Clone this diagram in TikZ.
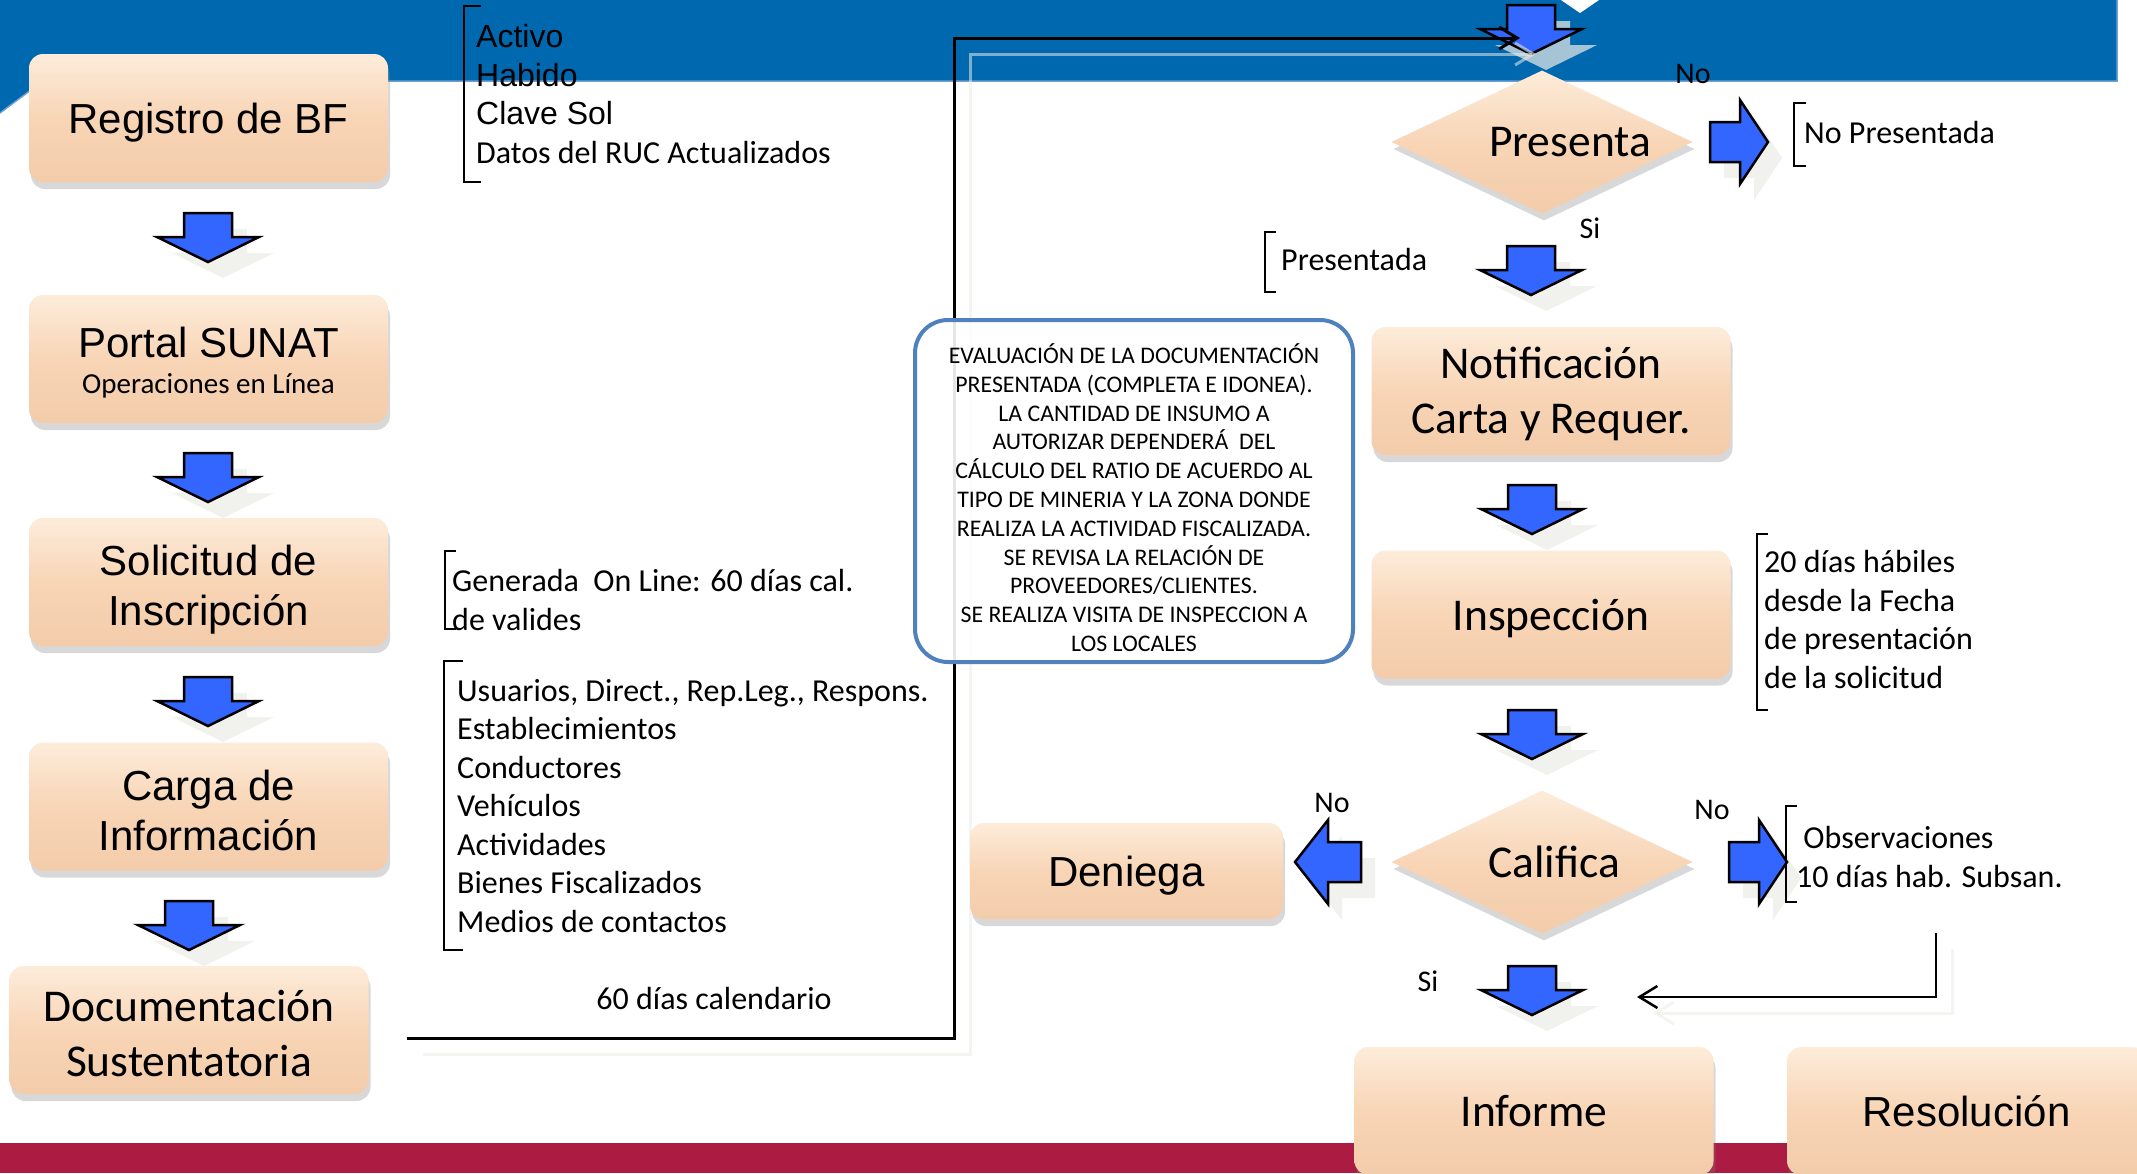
\documentclass[tikz,border=0pt]{standalone}
\usepackage{fontspec}
\setmainfont{Carlito}
\newfontfamily\arial{Liberation Sans}
\usetikzlibrary{positioning,shapes.geometric,shadows,arrows.meta}

\definecolor{banda}{RGB}{0,104,175}
\definecolor{bordebanda}{RGB}{110,160,210}
\definecolor{vino}{RGB}{172,27,66}
\definecolor{durazno}{RGB}{248,213,182}
\definecolor{duraznoclaro}{RGB}{253,236,218}
\definecolor{duraznoosc}{RGB}{243,204,170}
\definecolor{azulflecha}{RGB}{51,102,255}
\definecolor{sombra}{RGB}{236,236,230}
\definecolor{marcoazul}{RGB}{79,129,189}

\tikzset{
  caja/.style={rounded corners=14pt, minimum width=359pt, minimum height=128pt,
    inner sep=0pt, align=center, top color=duraznoclaro, bottom color=duraznoosc,
    middle color=durazno,
    drop shadow={shadow xshift=2pt, shadow yshift=-7pt, opacity=0.3},
    font=\fontsize{45.5}{55}\selectfont},
  cajaarial/.style={caja, font=\arial\fontsize{42}{50}\selectfont},
  rombo/.style={diamond, aspect=2.1, minimum width=301pt, minimum height=143pt,
    inner sep=0pt, text depth=0pt, top color=duraznoclaro, bottom color=duraznoosc,
    middle color=durazno,
    drop shadow={shadow xshift=2pt, shadow yshift=-7pt, opacity=0.3},
    font=\fontsize{45.5}{55}\selectfont},
  recuadro/.style={draw=marcoazul, line width=4pt, rounded corners=33pt,
    fill=white, fill opacity=0.9, text opacity=1, minimum width=438pt,
    minimum height=342pt, inner sep=0pt, align=center,
    font=\fontsize{23.8}{28.8}\selectfont},
  nota/.style={anchor=base west, align=left, inner sep=0pt,
    font=\fontsize{32}{38.5}\selectfont},
  rotulo/.style={inner sep=0pt, font=\fontsize{30}{36}\selectfont},
  corchete/.style={line width=2.5pt},
  enlace/.style={line width=3pt, -{Straight Barb[length=18pt,width=22pt]}},
  sombraenlace/.style={enlace, draw=sombra, opacity=0.55},
  bloque/.style={fill=azulflecha, draw=black, line width=2.5pt},
  reflejo/.style={fill=sombra, fill opacity=0.7},
  bajada/.pic={
    \fill[reflejo, shift={(15,16)}] (-24,0) -- (24,0) -- (24,24) -- (51,24)
      -- (0,49) -- (-51,24) -- (-24,24) -- cycle;
    \draw[bloque] (-24,0) -- (24,0) -- (24,24) -- (51,24) -- (0,49)
      -- (-51,24) -- (-24,24) -- cycle;
  },
  avance/.pic={
    \fill[reflejo, shift={(14,16)}] (0,-20) -- (30,-20) -- (30,-42) -- (58,0)
      -- (30,42) -- (30,20) -- (0,20) -- cycle;
    \draw[bloque] (0,-20) -- (30,-20) -- (30,-42) -- (58,0) -- (30,42)
      -- (30,20) -- (0,20) -- cycle;
  },
  retroceso/.pic={
    \fill[reflejo, shift={(14,16)}] (0,0) -- (33,-42) -- (33,-20) -- (66,-20)
      -- (66,20) -- (33,20) -- (33,42) -- cycle;
    \draw[bloque] (0,0) -- (33,-42) -- (33,-20) -- (66,-20) -- (66,20)
      -- (33,20) -- (33,42) -- cycle;
  }
}

\begin{document}
\begin{tikzpicture}[x=1pt, y=-1pt]
  \useasboundingbox (0,0) rectangle (2137,1173);
  \clip (0,0) rectangle (2137,1173);

  % Fondo de la lamina
  \fill[white] (0,0) rectangle (2137,1173);
  \fill[banda] (0,0) -- (2117,0) -- (2117,81) -- (43,81) -- (0,113) -- cycle;
  \draw[bordebanda, line width=1.5pt] (0,113) -- (43,81) -- (2117,81) -- (2117,0);
  \fill[white] (1561,0) -- (1599,0) -- (1580,13) -- cycle;
  \fill[vino] (0,1143) rectangle (2137,1173);

  % Flechas de bloque
  \pic at (208,213) {bajada};
  \pic at (208,453) {bajada};
  \pic at (208,677) {bajada};
  \pic at (189,901) {bajada};
  \pic at (1531,5) {bajada};
  \pic at (1531,246) {bajada};
  \pic at (1532,485) {bajada};
  \pic at (1532,710) {bajada};
  \pic at (1532,966) {bajada};
  \pic at (1710,142) {avance};
  \pic at (1729,862) {avance};
  \pic at (1295,862) {retroceso};

  % Extremos libres de los enlaces
  \coordinate (salida) at (407,1038);
  \coordinate (codo) at (954,38);
  \coordinate (llegada) at (1520,38);
  \coordinate (obs) at (1936,933);
  \coordinate (regreso) at (1637,997);

  % Enlaces
  \draw[sombraenlace] ([shift={(16,16)}]salida) -| ([shift={(16,16)}]codo)
    -- ([shift={(16,16)}]llegada);
  \draw[sombraenlace] ([shift={(16,16)}]obs) |- ([shift={(16,16)}]regreso);
  \draw[enlace] (salida) -| (codo) -- (llegada);
  \draw[enlace, line width=2.5pt] (obs) |- (regreso);

  % Corchetes y notas
  \draw[corchete] (481,6) -| (464,182) -- (481,182);
  \draw[corchete] (456,551) -| (445,629) -- (456,629);
  \draw[corchete] (463,661) -| (444,950) -- (463,950);
  \draw[corchete] (1276,232) -| (1265,292) -- (1276,292);
  \draw[corchete] (1806,103) -| (1794,166) -- (1806,166);
  \draw[corchete] (1768,534) -| (1757,710) -- (1768,710);
  \draw[corchete] (1797,806) -| (1786,902) -- (1797,902);

  \node[nota] (requisitos) at (476,163) {{\arial Activo}\\{\arial Habido}\\{\arial Clave Sol}\\Datos del RUC Actualizados};
  \node[nota] (vigencia) at (452,630) {Generada\ \ On Line: 60 días cal.\\de valides};
  \node[nota] (datos) at (457,932) {Usuarios, Direct., Rep.Leg., Respons.\\Establecimientos\\Conductores\\Vehículos\\Actividades\\Bienes Fiscalizados\\Medios de contactos};
  \node[nota, anchor=base] (plazo) at (714,1009) {60 días calendario};
  \node[nota] (presentada) at (1281,270) {Presentada};
  \node[nota] (nopresentada) at (1804,143) {No Presentada};
  \node[nota] (habiles) at (1764,688) {20 días hábiles\\desde la Fecha\\de presentación\\de la solicitud};
  \node[nota] (observaciones) at (1796,887) {\ Observaciones\\10 días hab. Subsan.};

  % Cajas del proceso
  \node[cajaarial, text depth=0pt] (registro) at (208.5,118) {Registro de BF};
  \node[cajaarial, font=\arial\fontsize{42}{36}\selectfont, text height=69pt, text depth=0pt] (portal) at (208.5,359) {Portal SUNAT\\{\rmfamily\fontsize{29}{36}\selectfont Operaciones en Línea}};
  \node[cajaarial, text height=87pt, text depth=0pt] (solicitud) at (208.5,582) {Solicitud de\\Inscripción};
  \node[cajaarial, text height=88pt, text depth=0pt] (carga) at (208.5,806.5) {Carga de\\Información};
  \node[caja, text height=93pt, text depth=0pt] (documentacion) at (189,1030) {Documentación\\Sustentatoria};
  \node[rombo] (presenta) at (1542,142) {\hspace*{56pt}Presenta};
  \node[caja, text height=84pt, text depth=0pt] (notificacion) at (1551,391) {Notificación\\Carta y Requer.};
  \node[caja, text depth=0pt] (inspeccion) at (1551,614.5) {Inspección};
  \node[rombo] (califica) at (1542,862) {\hspace*{24pt}Califica};
  \node[cajaarial, text depth=0pt, minimum width=313pt, minimum height=96pt] (deniega) at (1126.5,871) {Deniega};
  \node[caja] (informe) at (1534,1111) {Informe};
  \node[cajaarial] (resolucion) at (1966.5,1111) {Resolución};

  \node[recuadro] (evaluacion) at (1134,491) {\rule{0pt}{33pt}EVALUACIÓN DE LA DOCUMENTACIÓN\\PRESENTADA (COMPLETA E IDONEA).\\LA CANTIDAD DE INSUMO A\\AUTORIZAR DEPENDERÁ\ \ DEL\\CÁLCULO DEL RATIO DE ACUERDO AL\\TIPO DE MINERIA Y LA ZONA DONDE\\REALIZA LA ACTIVIDAD FISCALIZADA.\\SE REVISA LA RELACIÓN DE\\PROVEEDORES/CLIENTES.\\SE REALIZA VISITA DE INSPECCION A\\LOS LOCALES};

  % Rotulos de decision
  \node[rotulo] (nopres) at (1693,74) {No};
  \node[rotulo] (sipres) at (1590,228) {Si};
  \node[rotulo] (nodeniega) at (1332,803) {No};
  \node[rotulo] (noobs) at (1712,810) {No};
  \node[rotulo] (siinforme) at (1428,981) {Si};
\end{tikzpicture}
\end{document}
